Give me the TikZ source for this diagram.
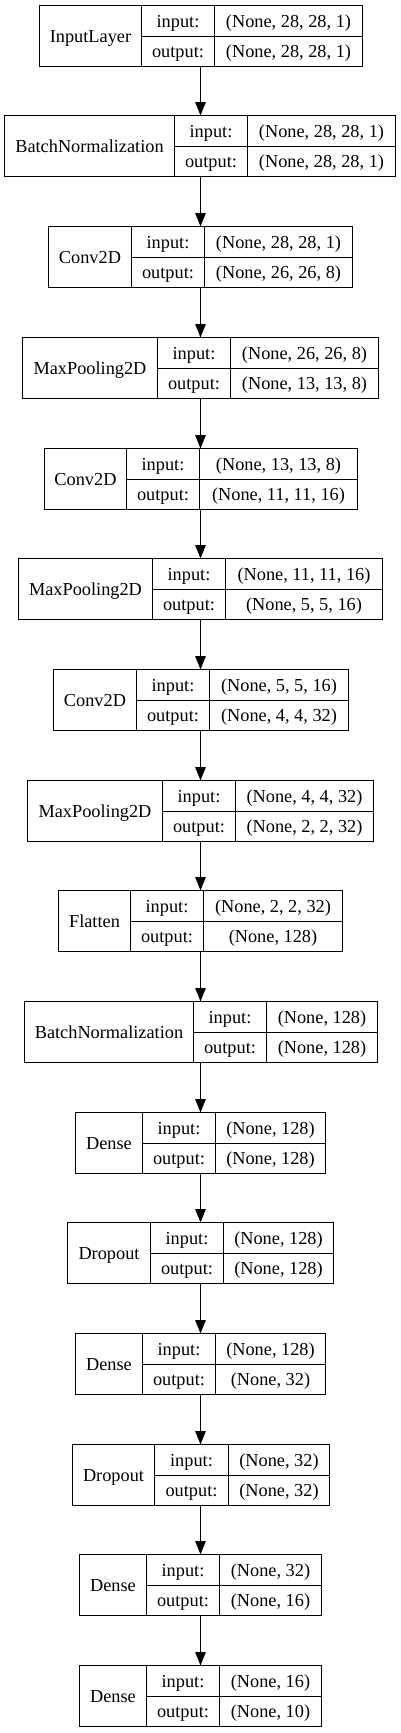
\documentclass[tikz,border=0pt]{standalone}
\usepackage{fontspec}
\setmainfont{Liberation Serif}
\usetikzlibrary{arrows.meta}
\tikzset{
 box/.style={draw, line width=1.15pt, inner sep=0pt, outer sep=0pt, anchor=north west},
 txt/.style={font=\fontsize{18.3}{22}\selectfont, text height=12.1pt, text depth=0pt, align=center},
 frame/.style={draw=none, inner sep=0pt, outer sep=0pt, anchor=north, minimum height=61pt},
 arr/.style={line width=1.15pt, -{Triangle[length=13.5pt, width=10.5pt]}}
}
\newcommand\layer[8]{%
 \pgfmathsetmacro\lyt{floor(5.3+(#1-1)*110.69)+0.5}%
 \pgfmathsetmacro\lxa{floor(#3)+0.5}%
 \pgfmathsetmacro\lxb{floor(#4)+0.5}%
 \pgfmathsetmacro\lxc{floor(#5)+0.5}%
 \pgfmathsetmacro\lxd{floor(#6)+0.5}%
 \pgfmathsetmacro\lya{\lxb-\lxa}%
 \pgfmathsetmacro\lyb{\lxc-\lxb}%
 \pgfmathsetmacro\lyc{\lxd-\lxc}%
 \pgfmathsetmacro\lyw{\lxd-\lxa}%
 \node[frame, minimum width=\lyw pt] (L#1) at (200.5,\lyt) {};
 \node[box, txt, minimum width=\lya pt, minimum height=61pt] (L#1n) at (\lxa,\lyt) {#2};
 \node[box, txt, minimum width=\lyb pt, minimum height=31pt] (L#1ik) at (\lxb,\lyt) {input:};
 \node[box, txt, minimum width=\lyb pt, minimum height=30pt] (L#1ok) at (L#1ik.south west) {output:};
 \node[box, txt, minimum width=\lyc pt, minimum height=31pt] (L#1iv) at (L#1ik.north east) {#7};
 \node[box, txt, minimum width=\lyc pt, minimum height=30pt] (L#1ov) at (L#1iv.south west) {#8};
}
\begin{document}
\begin{tikzpicture}[x=1pt, y=-1pt]
\useasboundingbox (0,0) rectangle (401,1733);
\layer{1}{InputLayer}{39.3}{141.3}{214.3}{362.7}{(None, 28, 28, 1)}{(None, 28, 28, 1)}
\layer{2}{BatchNormalization}{4.7}{174.3}{247.7}{395.7}{(None, 28, 28, 1)}{(None, 28, 28, 1)}
\layer{3}{Conv2D}{48.7}{131.3}{204.3}{352.3}{(None, 28, 28, 1)}{(None, 26, 26, 8)}
\layer{4}{MaxPooling2D}{22.7}{157.3}{230.3}{378.3}{(None, 26, 26, 8)}{(None, 13, 13, 8)}
\layer{5}{Conv2D}{44}{126.7}{199.7}{357.3}{(None, 13, 13, 8)}{(None, 11, 11, 16)}
\layer{6}{MaxPooling2D}{18}{152.7}{225.7}{382.7}{(None, 11, 11, 16)}{(None, 5, 5, 16)}
\layer{7}{Conv2D}{53.3}{136}{209.3}{348}{(None, 5, 5, 16)}{(None, 4, 4, 32)}
\layer{8}{MaxPooling2D}{27.3}{162}{235.3}{373.7}{(None, 4, 4, 32)}{(None, 2, 2, 32)}
\layer{9}{Flatten}{58.7}{130.7}{203.7}{342.3}{(None, 2, 2, 32)}{(None, 128)}
\layer{10}{BatchNormalization}{24}{193.3}{266.7}{377.3}{(None, 128)}{(None, 128)}
\layer{11}{Dense}{75.3}{142}{215.3}{325.7}{(None, 128)}{(None, 128)}
\layer{12}{Dropout}{67}{150}{223}{333.7}{(None, 128)}{(None, 128)}
\layer{13}{Dense}{75.3}{142}{215.3}{325.7}{(None, 128)}{(None, 32)}
\layer{14}{Dropout}{72}{154.7}{228}{329.3}{(None, 32)}{(None, 32)}
\layer{15}{Dense}{79.7}{146.7}{219.7}{321.3}{(None, 32)}{(None, 16)}
\layer{16}{Dense}{79.7}{146.7}{219.7}{321.3}{(None, 16)}{(None, 10)}
\foreach \i [evaluate=\i as \j using int(\i+1)] in {1,...,15}
  \draw[arr] (L\i.south) -- (L\j.north);
\end{tikzpicture}
\end{document}
